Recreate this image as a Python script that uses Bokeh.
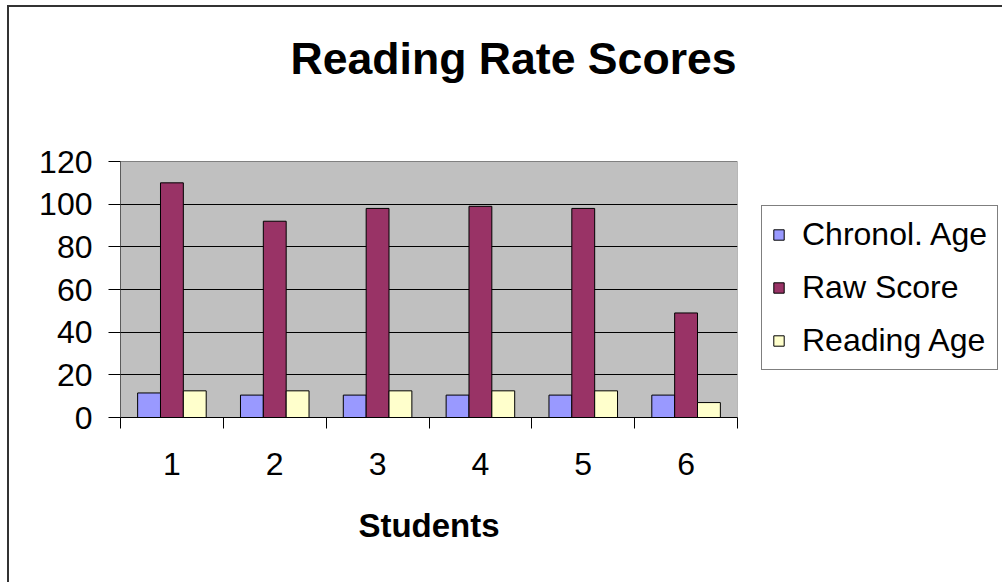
from bokeh.plotting import figure
from bokeh.models import (FixedTicker, Legend, LegendItem, Range1d, ColumnDataSource,
                          Title)
from bokeh.transform import dodge
from bokeh.embed import file_html
from bokeh.resources import INLINE

# ---- data ----
students = [1, 2, 3, 4, 5, 6]
student_labels = ["1", "2", "3", "4", "5", "6"]
chronol_age = [11.5, 10.5, 10.5, 10.5, 10.5, 10.5]
raw_score = [110, 92, 98, 99, 98, 49]
reading_age = [12.5, 12.5, 12.5, 12.5, 12.5, 7]
y_ticks = [0, 20, 40, 60, 80, 100, 120]
series_names = ["Chronol. Age", "Raw Score", "Reading Age"]
series_colors = ["#9999FF", "#993366", "#FFFFCC"]

FONT = "Liberation Sans"

source = ColumnDataSource(dict(x=students, chronol=chronol_age,
                               raw=raw_score, reading=reading_age))

# plot-area geometry (pixels)
AREA_W, AREA_H, HEADROOM = 617, 256, 74
y_max = y_ticks[-1]
x_lo, x_hi = students[0] - 0.5, students[-1] + 0.5

p = figure(frame_width=AREA_W, frame_height=AREA_H + HEADROOM,
           output_backend="svg", toolbar_location=None, title=None,
           x_range=Range1d(x_lo, x_hi),
           y_range=Range1d(0, y_max * (AREA_H + HEADROOM) / AREA_H),
           min_border_left=111, min_border_top=80,
           min_border_right=265, min_border_bottom=165)
p.margin = (5, 0, 0, 7)
p.styles = {"border-left": "2px solid #333333", "border-top": "2px solid #333333"}

p.background_fill_color = "white"
p.border_fill_color = "white"
p.outline_line_color = None

xa = p.below[0]
ya = p.left[0]

# title
title = Title(text="Reading Rate Scores", text_font=FONT, text_font_size="44.6px",
              text_font_style="bold", text_color="black", align="left",
              offset=170, standoff=10)
p.add_layout(title, "above")

# grey plot area
p.quad(left=[x_lo], right=[x_hi], bottom=[y_ticks[0]], top=[y_max],
       fill_color="#C0C0C0", line_color="#808080", line_width=1, level="image")

# grid (behind bars)
p.xgrid.visible = False
p.ygrid.grid_line_color = "black"
p.ygrid.grid_line_width = 1
p.ygrid.ticker = FixedTicker(ticks=y_ticks[:-1])

# bars
bw = 1 / 4.5
cols = ["chronol", "raw", "reading"]
offsets = [-bw, 0, bw]
renderers = []
for col, off, color in zip(cols, offsets, series_colors):
    r = p.vbar(x=dodge("x", off, range=p.x_range), top=col, width=bw,
               source=source, fill_color=color, line_color="black",
               line_width=1)
    renderers.append(r)

# value-axis line (only along the plot area)
p.segment(x0=[x_lo], x1=[x_lo], y0=[y_ticks[0]], y1=[y_max],
          line_color="black", line_width=1)

# y axis
ya.ticker = FixedTicker(ticks=y_ticks)
ya.major_label_text_font = FONT
ya.major_label_text_font_size = "32px"
ya.major_label_text_color = "black"
ya.major_tick_out = 12
ya.major_tick_in = 0
ya.minor_tick_out = 0
ya.minor_tick_in = 0
ya.major_label_standoff = 16
ya.axis_line_color = None
ya.major_tick_line_color = "black"

# x axis: labels at category centres, tick marks at category boundaries
xa.ticker = FixedTicker(ticks=students,
                        minor_ticks=[x_lo + i for i in range(len(students) + 1)])
xa.major_label_overrides = {s: l for s, l in zip(students, student_labels)}
xa.major_tick_out = 0
xa.major_tick_in = 0
xa.major_tick_line_color = None
xa.minor_tick_out = 11
xa.minor_tick_in = 0
xa.minor_tick_line_color = "black"
xa.axis_line_color = "black"
xa.major_label_standoff = 24
xa.major_label_text_font = FONT
xa.major_label_text_font_size = "32px"
xa.major_label_text_color = "black"
xa.axis_label = "Students"
xa.axis_label_text_font = FONT
xa.axis_label_text_font_size = "33px"
xa.axis_label_text_font_style = "bold"
xa.axis_label_text_color = "black"
xa.axis_label_standoff = 29

# legend
legend = Legend(items=[LegendItem(label=n, renderers=[r])
                       for n, r in zip(series_names, renderers)],
                location=(24, 47))
legend.label_text_font = FONT
legend.label_text_font_size = "32px"
legend.label_text_color = "black"
legend.glyph_width = 13
legend.glyph_height = 13
legend.label_standoff = 17
legend.spacing = 16
legend.padding = 10
legend.margin = 0
legend.border_line_color = "black"
legend.border_line_width = 1
legend.background_fill_color = "white"
legend.background_fill_alpha = 1
p.add_layout(legend, "right")

open("out.html", "w").write(file_html(p, INLINE))
